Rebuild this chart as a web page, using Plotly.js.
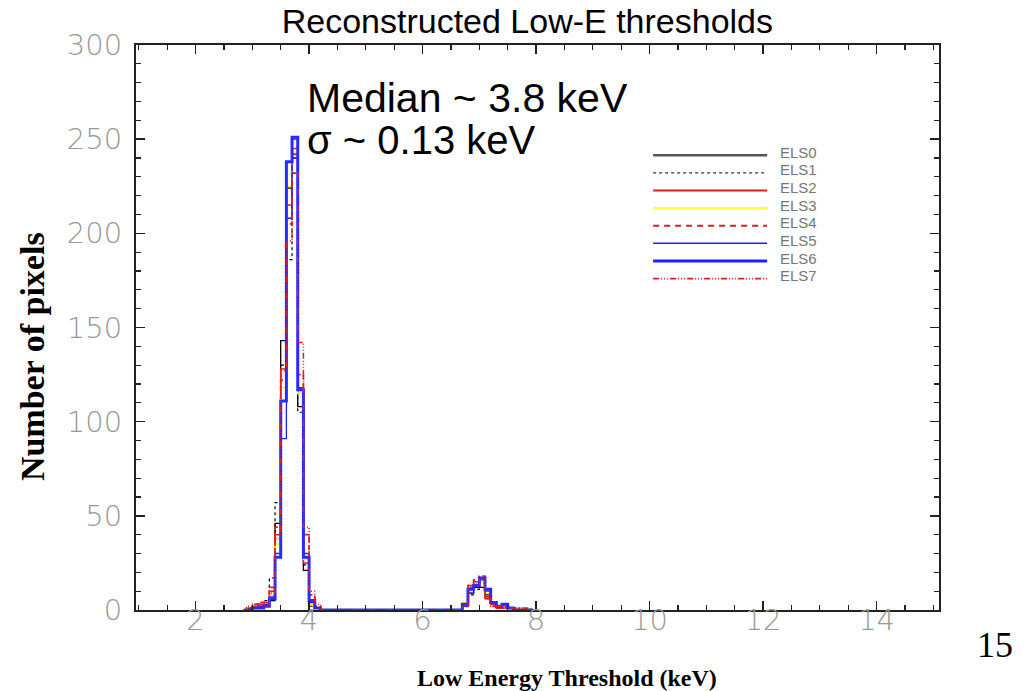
<!DOCTYPE html>
<html>
<head>
<meta charset="utf-8">
<script src="https://cdn.plot.ly/plotly-3.0.1.min.js"></script>
<style>html,body{margin:0;padding:0;background:#fff;}#chart{width:1028px;height:691px;}</style>
</head>
<body>
<div id="chart"></div>
<script>
// Bin centers (0.1 keV bins): main peak region and second peak region
const binsLow = [2.85, 2.95, 3.05, 3.15, 3.25, 3.35, 3.45, 3.55, 3.65, 3.75, 3.85, 3.95, 4.05, 4.15, 4.25];
const binsHigh = [6.65, 6.75, 6.85, 6.95, 7.05, 7.15, 7.25, 7.35, 7.45, 7.55, 7.65, 7.75, 7.85, 7.95];

const seriesNames = ["ELS0", "ELS1", "ELS2", "ELS3", "ELS4", "ELS5", "ELS6", "ELS7"];

const els0Low = [0, 0, 1, 2, 3, 5, 46, 143, 224, 240, 108, 21, 3, 1, 0];
const els1Low = [0, 1, 1, 3, 5, 17, 57, 130, 186, 232, 105, 24, 2, 1, 0];
const els2Low = [0, 0, 2, 3, 4, 10, 40, 128, 215, 245, 118, 25, 4, 1, 0];
const els3Low = [0, 0, 1, 2, 3, 8, 35, 118, 225, 243, 115, 27, 3, 1, 0];
const els4Low = [0, 1, 3, 4, 4, 12, 44, 122, 205, 242, 125, 40, 8, 2, 0];
const els5Low = [0, 0, 1, 2, 3, 7, 30, 91, 208, 250, 118, 30, 4, 1, 0];
const els6Low = [0, 0, 1, 1, 2, 6, 28, 111, 238, 251, 117, 28, 5, 1, 0];
const els7Low = [0, 2, 3, 3, 2, 9, 38, 127, 196, 232, 142, 44, 10, 3, 0];

const els0High = [0, 3, 9, 12, 12, 8, 3, 1, 2, 1, 0, 0, 0, 0];
const els1High = [0, 2, 8, 11, 14, 7, 4, 2, 1, 1, 1, 0, 0, 0];
const els2High = [0, 3, 13, 15, 17, 6, 3, 1, 1, 1, 0, 1, 0, 0];
const els3High = [0, 4, 10, 13, 15, 9, 4, 2, 2, 1, 1, 1, 1, 0];
const els4High = [0, 2, 12, 16, 18, 7, 2, 1, 2, 1, 1, 0, 1, 0];
const els5High = [0, 2, 9, 13, 16, 10, 4, 2, 3, 1, 0, 0, 0, 0];
const els6High = [0, 3, 11, 13, 17, 11, 4, 2, 3, 1, 0, 0, 0, 0];
const els7High = [0, 2, 13, 14, 17, 6, 2, 2, 1, 1, 1, 1, 0, 0];

const lowSets = [els0Low, els1Low, els2Low, els3Low, els4Low, els5Low, els6Low, els7Low];
const highSets = [els0High, els1High, els2High, els3High, els4High, els5High, els6High, els7High];

// styles
const lineStyles = [
  {color: "#000000", width: 1.3, dash: "solid"},
  {color: "#000000", width: 1.2, dash: "dot"},
  {color: "#e02020", width: 1.5, dash: "solid"},
  {color: "#ffff00", width: 1.5, dash: "solid"},
  {color: "#e02020", width: 1.8, dash: "5px,3px"},
  {color: "#2020ff", width: 1.3, dash: "solid"},
  {color: "#2a2aff", width: 3, dash: "solid"},
  {color: "#e02020", width: 1.5, dash: "6px,2px,1px,2px,1px,2px,1px,2px"}
];
const legendStyles = [
  {color: "#555555", width: 2.5, dash: "solid"},
  {color: "#333333", width: 1.2, dash: "dot"},
  {color: "#d42020", width: 2, dash: "solid"},
  {color: "#ffff33", width: 2, dash: "solid"},
  {color: "#d42020", width: 2, dash: "6px,5px"},
  {color: "#2020ff", width: 1.5, dash: "solid"},
  {color: "#2020ff", width: 3, dash: "solid"},
  {color: "#d42020", width: 1.8, dash: "6px,2px,1px,2px,1px,2px,1px,2px"}
];

const traces = seriesNames.map((name, i) => ({
  type: "scatter",
  mode: "lines",
  name: name,
  x: binsLow.concat(binsHigh),
  y: lowSets[i].concat(highSets[i]),
  line: Object.assign({shape: "hvh"}, lineStyles[i]),
  showlegend: false,
  hoverinfo: "skip"
}));

// manual legend (long keys as in the original)
const shapes = [];
const annotations = [];
const legTop = 0.805, legStep = 0.0312;
seriesNames.forEach((name, i) => {
  const yy = legTop - i * legStep;
  shapes.push({type: "line", xref: "paper", yref: "paper", x0: 0.644, x1: 0.786, y0: yy, y1: yy,
    line: legendStyles[i]});
  annotations.push({xref: "paper", yref: "paper", x: 0.800, y: yy + 0.005, xanchor: "left", yanchor: "middle",
    text: name, showarrow: false, font: {family: "Liberation Sans, Arial, sans-serif", size: 15, color: "#777777"}});
});
annotations.push({xref: "paper", yref: "paper", x: 0.211, y: 0.906, xanchor: "left", yanchor: "middle",
  text: "Median ~ 3.8 keV", showarrow: false, font: {family: "Liberation Sans, Arial, sans-serif", size: 41, color: "#000"}});
annotations.push({xref: "paper", yref: "paper", x: 0.211, y: 0.832, xanchor: "left", yanchor: "middle",
  text: "σ ~ 0.13 keV", showarrow: false, font: {family: "Liberation Sans, Arial, sans-serif", size: 40, color: "#000"}});
annotations.push({xref: "paper", yref: "paper", x: 1.07, y: -0.062, xanchor: "center", yanchor: "middle",
  text: "15", showarrow: false, font: {family: "Liberation Serif, Times New Roman, serif", size: 36, color: "#000"}});
// axis titles (placed as in the original, which is off-centre)
annotations.push({xref: "paper", yref: "paper", x: 0.537, y: -0.120, xanchor: "center", yanchor: "middle",
  text: "<b>Low Energy Threshold (keV)</b>", showarrow: false,
  font: {family: "Liberation Serif, Times New Roman, serif", size: 24, color: "#000"}});
annotations.push({xref: "paper", yref: "paper", x: -0.128, y: 0.448, xanchor: "center", yanchor: "middle",
  textangle: -90, text: "<b>Number of pixels</b>", showarrow: false,
  font: {family: "Liberation Serif, Times New Roman, serif", size: 34, color: "#000"}});

const tickFont = {family: "DejaVu Sans, sans-serif", size: 29, color: "#999999", weight: 200};

const layout = {
  width: 1028, height: 691,
  paper_bgcolor: "#ffffff", plot_bgcolor: "#ffffff",
  margin: {l: 136, r: 89, t: 45, b: 81},
  title: {text: "Reconstructed Low-E thresholds", x: 0.513, xanchor: "center", xref: "container",
    y: 0.97, yref: "container", yanchor: "middle",
    font: {family: "Liberation Sans, Arial, sans-serif", size: 34, color: "#000"}},
  xaxis: {
    range: [0.95, 15.1], showgrid: false, zeroline: false,
    showline: true, linecolor: "#222", linewidth: 2, mirror: "ticks",
    ticks: "inside", ticklen: 9, tickwidth: 1.5, tickcolor: "#222",
    tick0: 0, dtick: 2, tickfont: tickFont, ticklabelstandoff: -17,
    minor: {ticks: "inside", ticklen: 5, tickwidth: 1.2, tickcolor: "#222", dtick: 0.5, tick0: 0, showgrid: false}
  },
  yaxis: {
    range: [0, 300], showgrid: false, zeroline: false,
    showline: true, linecolor: "#222", linewidth: 2, mirror: "ticks",
    ticks: "inside", ticklen: 9, tickwidth: 1.5, tickcolor: "#222",
    tick0: 0, dtick: 50, tickfont: tickFont, ticklabelstandoff: 6,
    minor: {ticks: "inside", ticklen: 5, tickwidth: 1.2, tickcolor: "#222", dtick: 10, tick0: 0, showgrid: false}
  },
  shapes: shapes,
  annotations: annotations,
  showlegend: false
};

Plotly.newPlot("chart", traces, layout, {displayModeBar: false, staticPlot: true});
</script>
</body>
</html>
